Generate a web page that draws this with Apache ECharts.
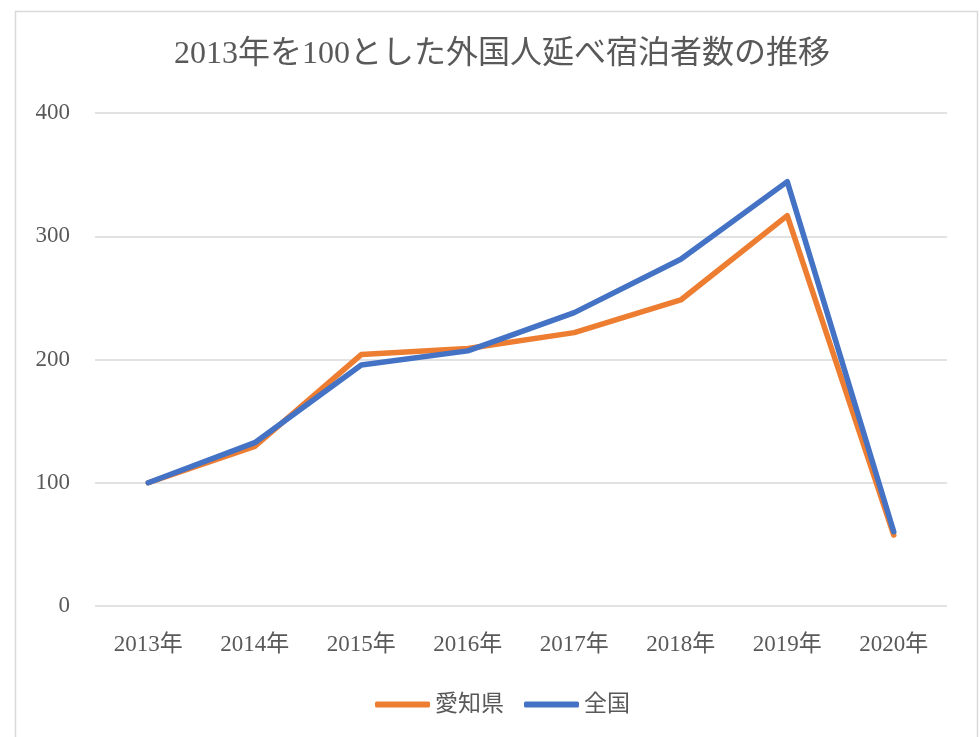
<!DOCTYPE html>
<html>
<head>
<meta charset="utf-8">
<script src="https://cdn.jsdelivr.net/npm/echarts@6/dist/echarts.min.js"></script>
<style>
html,body{margin:0;padding:0;background:#fff;}
#chart{width:980px;height:737px;}
</style>
</head>
<body>
<div id="chart"></div>
<script>
const categories = ['2013年','2014年','2015年','2016年','2017年','2018年','2019年','2020年'];
const aichi = [100, 129.5, 204, 209, 221.8, 248.3, 316.7, 57.6];
const zenkoku = [100, 132.5, 195.5, 207, 238, 281.3, 344.3, 60.3];
const seriesNames = ['愛知県', '全国'];
const yTicks = [0, 100, 200, 300, 400];

const FONT = '"Liberation Serif", "DejaVu Serif", "Noto Sans CJK JP", serif';
const TXT = '#595959';

const chart = echarts.init(document.getElementById('chart'));
chart.setOption({
  animation: false,
  backgroundColor: '#fff',
  graphic: [{
    type: 'rect', silent: true, z: -1,
    shape: { x: 15.5, y: 11.5, width: 962, height: 740 },
    style: { fill: 'none', stroke: '#d9d9d9', lineWidth: 1.5 }
  }],
  title: {
    text: '2013年を100とした外国人延べ宿泊者数の推移',
    left: 497, textAlign: 'center', top: 34,
    textStyle: { fontFamily: FONT, fontSize: 32, fontWeight: 'normal', color: TXT }
  },
  legend: {
    data: seriesNames,
    top: 688, left: 370,
    itemWidth: 55, itemHeight: 6, itemGap: 20,
    icon: 'roundRect',
    textStyle: { fontFamily: FONT, fontSize: 23, color: TXT }
  },
  grid: { left: 95, right: 33, top: 113, bottom: 131, containLabel: false },
  xAxis: {
    type: 'category', data: categories, boundaryGap: true,
    axisLine: { show: false }, axisTick: { show: false },
    axisLabel: { fontFamily: FONT, fontSize: 23, color: TXT, margin: 27 }
  },
  yAxis: {
    type: 'value', min: yTicks[0], max: yTicks[yTicks.length-1], interval: 100,
    axisLine: { show: false }, axisTick: { show: false },
    axisLabel: { fontFamily: FONT, fontSize: 23, color: TXT, margin: 25 },
    splitLine: { lineStyle: { color: '#d9d9d9', width: 1.5 } }
  },
  series: [
    { name: seriesNames[0], type: 'line', data: aichi, symbol: 'none',
      color: '#ED7D31',
      lineStyle: { width: 5.5, color: '#ED7D31', cap: 'round', join: 'round' } },
    { name: seriesNames[1], type: 'line', data: zenkoku, symbol: 'none',
      color: '#4472C4',
      lineStyle: { width: 5.5, color: '#4472C4', cap: 'round', join: 'round' } }
  ]
});
</script>
</body>
</html>
